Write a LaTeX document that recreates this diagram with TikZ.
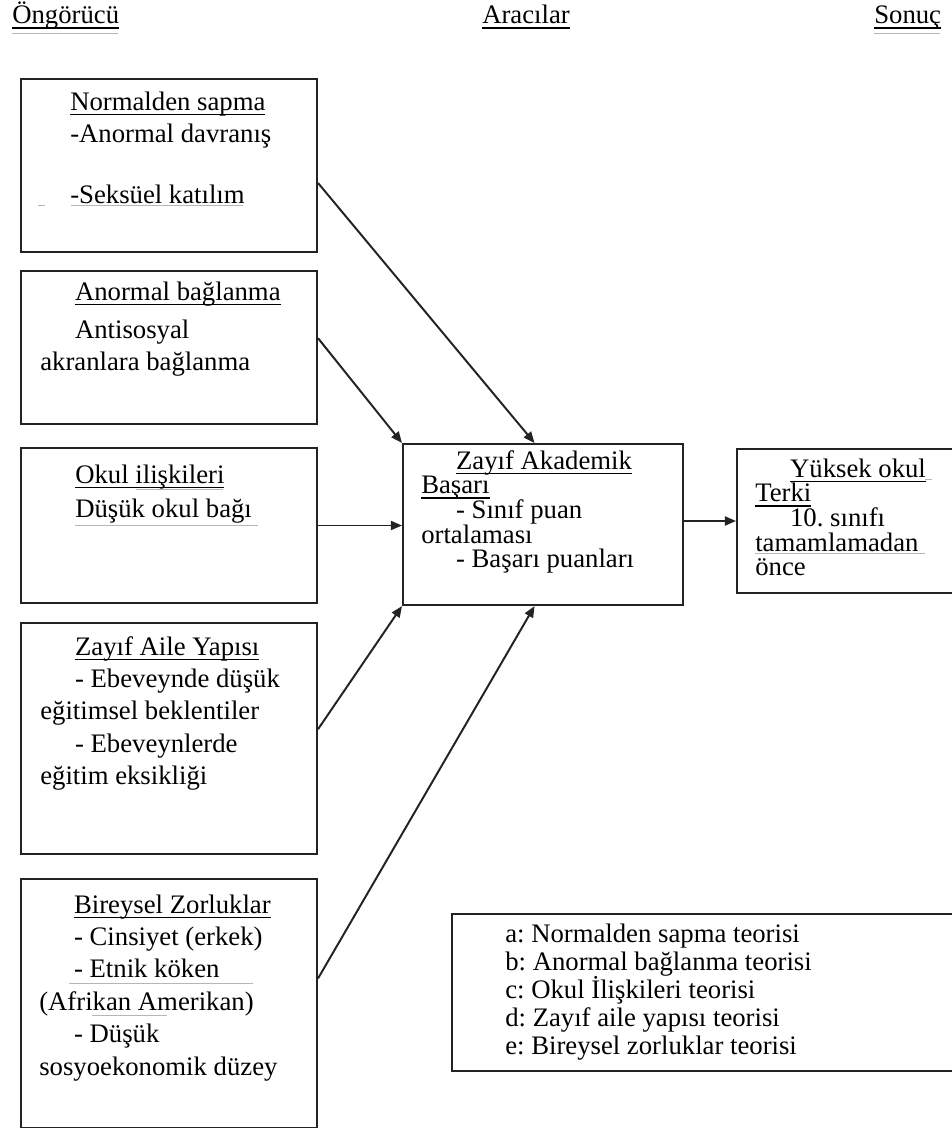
\documentclass[tikz,border=0pt]{standalone}
\usepackage{fontspec}
\setmainfont{Liberation Serif}
\usetikzlibrary{positioning,calc,arrows.meta}
\definecolor{FrameGray}{RGB}{35,35,35}
\definecolor{SpellBlue}{RGB}{150,190,228}
\newlength{\ulwd}
\newcommand{\ulbar}[1]{\settowidth{\ulwd}{#1}\rlap{\rule[-3.4pt]{\ulwd}{1pt}}#1}
\newcommand{\topstrut}{\rule{0pt}{18pt}}
\newcommand{\firstind}{\hspace*{0.87cm}}
\normallineskiplimit=-20pt
\lineskiplimit=-20pt
\frenchspacing
\tikzset{
  box/.style={draw=FrameGray,line width=1.4pt,anchor=north west,inner sep=0pt},
  txt/.style={anchor=north west,inner sep=0pt,align=left,font=\fontsize{19}{23}\selectfont},
  tighttxt/.style={txt,font=\fontsize{19}{17.5}\selectfont},
  legtxt/.style={txt,font=\fontsize{19}{19.9}\selectfont},
  head/.style={anchor=base west,inner sep=0pt,font=\fontsize{19}{23}\selectfont},
  link/.style={draw=FrameGray,line width=1.4pt,-{Triangle[length=8pt,width=6.5pt]}},
  spell/.style={draw=SpellBlue,line width=0.7pt},
}

\begin{document}
\frenchspacing
\begin{tikzpicture}[x=0.025cm,y=-0.025cm]
\useasboundingbox (0,0) rectangle (951,1128);
% column headings
\node[head] (hpred) at (12,24) {\ulbar{Öngörücü}};
\node[head] (hmed) at (482,24) {\ulbar{Aracılar}};
\node[head] (hout) at (874,24) {\ulbar{Sonuç}};
% boxes
\node[box,minimum width=7.4cm,minimum height=4.325cm] (bnorm) at (20,78) {};
\node[box,minimum width=7.4cm,minimum height=3.825cm] (banorm) at (20,270) {};
\node[box,minimum width=7.4cm,minimum height=3.875cm] (bokul) at (20,447) {};
\node[box,minimum width=7.4cm,minimum height=5.775cm] (baile) at (20,622) {};
\node[box,minimum width=7.4cm,minimum height=6.225cm] (bbirey) at (20,878) {};
\node[box,minimum width=7cm,minimum height=4.025cm] (acad) at (402,443) {};
\node[box,minimum width=6cm,minimum height=3.6cm] (bterk) at (736,448) {};
\node[box,minimum width=13cm,minimum height=3.925cm] (blegend) at (451,913) {};
% box texts
\node[txt] (tnorm) at (70,84.7) {\topstrut\ulbar{Normalden sapma}\\-Anormal davranış\\[20pt]-Seksüel katılım};
\node[txt] (tanorm) at (40,274.7) {\topstrut\firstind\ulbar{Anormal bağlanma}\\[4pt]\firstind Antisosyal\\akranlara bağlanma};
\node[txt] (tokul) at (75,457.7) {\topstrut\ulbar{Okul ilişkileri}\\[1pt]Düşük okul bağı};
\node[txt] (taile) at (40,629.7) {\topstrut\firstind\ulbar{Zayıf Aile Yapısı}\\\firstind - Ebeveynde düşük\\eğitimsel beklentiler\\\firstind - Ebeveynlerde\\eğitim eksikliği};
\node[txt] (tbirey) at (39,887.7) {\topstrut\firstind\ulbar{Bireysel Zorluklar}\\\firstind - Cinsiyet (erkek)\\\firstind - Etnik köken\\(Afrikan Amerikan)\\\firstind - Düşük\\sosyoekonomik düzey};
\node[tighttxt] (tacad) at (421,443.7) {\topstrut\firstind\ulbar{Zayıf Akademik}\\\ulbar{Başarı}\\\firstind - Sınıf puan\\ortalaması\\\firstind - Başarı puanları};
\node[tighttxt] (tterk) at (755,451.7) {\topstrut\firstind\ulbar{Yüksek okul}\\\ulbar{Terki}\\\firstind 10. sınıfı\\tamamlamadan\\önce};
\node[legtxt] (tlegend) at (505,916.7) {\topstrut a: Normalden sapma teorisi\\b: Anormal bağlanma teorisi\\c: Okul İlişkileri teorisi\\d: Zayıf aile yapısı teorisi\\e: Bireysel zorluklar teorisi};
% connectors
\draw[link] ($(bnorm.north east)!0.6!(bnorm.south east)$) -- ($(acad.north west)!0.47!(acad.north east)$);
\draw[link] ($(banorm.north east)!0.44!(banorm.south east)$) -- (acad.north west);
\draw[link] (bokul.east) -- (bokul.east -| acad.west);
\draw[link] ($(baile.north east)!0.46!(baile.south east)$) -- (acad.south west);
\draw[link] ($(bbirey.north east)!0.4!(bbirey.south east)$) -- ($(acad.south west)!0.47!(acad.south east)$);
\draw[link] (acad.east |- bterk.west) -- (bterk.west);
% spell-check marks
\draw[spell] (12,33) -- (118,33);
\draw[spell] (874,33) -- (940,33);
\draw[spell] (38,205) -- (45,205);
\draw[spell] (71,205) -- (243,205);
\draw[spell] (136,489) -- (223,489);
\draw[spell] (75,525) -- (258,525);
\draw[spell] (69,983) -- (253,983);
\draw[spell] (92,1015) -- (167,1015);
\draw[spell] (755,553) -- (925,553);
\draw[spell] (925,479) -- (932,479);
\end{tikzpicture}
\end{document}
